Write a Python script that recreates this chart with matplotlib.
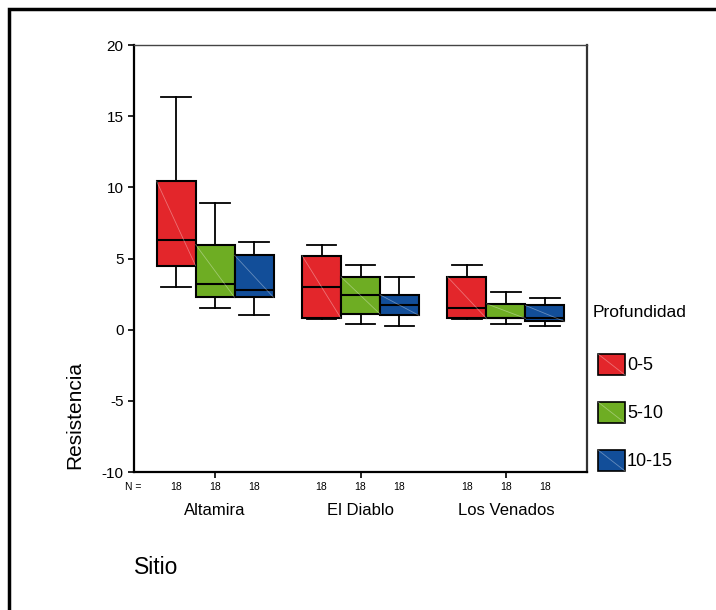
import matplotlib
matplotlib.use("Agg")
import matplotlib.pyplot as plt
from matplotlib.patches import Rectangle
import numpy as np

plt.rcParams['font.family'] = ['Liberation Sans', 'DejaVu Sans']

sites = ["Altamira", "El Diablo", "Los Venados"]
depths = ["0-5", "5-10", "10-15"]
colors = ["#E3262B", "#6EAD23", "#124E99"]
n_counts = [[18, 18, 18], [18, 18, 18], [18, 18, 18]]

# stats per site, per depth: whislo, q1, median, q3, whishi
whislo = [[3.0, 1.5, 1.0], [0.75, 0.37, 0.23], [0.78, 0.37, 0.23]]
q1     = [[4.5, 2.27, 2.27], [0.79, 1.1, 1.0], [0.79, 0.79, 0.58]]
med    = [[6.28, 3.22, 2.8], [2.99, 2.45, 1.7], [1.52, 0.8, 0.79]]
q3     = [[10.44, 5.98, 5.23], [5.21, 3.71, 2.45], [3.71, 1.82, 1.7]]
whishi = [[16.35, 8.92, 6.19], [5.98, 4.51, 3.71], [4.51, 2.62, 2.24]]

W, H = 716, 610
fig = plt.figure(figsize=(W / 100, H / 100), dpi=100)
ax = fig.add_axes([134 / W, 1 - 472 / H, (587 - 134) / W, (472 - 45) / H])

bw = 0.268
offsets = [-bw, 0, bw]
for i in range(len(sites)):
    for j in range(len(depths)):
        pos = i + 1 + offsets[j]
        st = dict(whislo=whislo[i][j], q1=q1[i][j], med=med[i][j],
                  q3=q3[i][j], whishi=whishi[i][j], fliers=[])
        ax.bxp([st], positions=[pos], widths=bw, capwidths=[bw * 0.75],
               patch_artist=True, showfliers=False,
               boxprops=dict(facecolor=colors[j], edgecolor="black", linewidth=1.5),
               medianprops=dict(color="black", linewidth=1.5),
               whiskerprops=dict(color="black", linewidth=1.3),
               capprops=dict(color="black", linewidth=1.3))
        # faint diagonal pattern line
        ax.plot([pos - bw / 2, pos + bw / 2], [q3[i][j], q1[i][j]],
                color="white", alpha=0.35, linewidth=0.6, zorder=5)

ax.set_xlim(0.443, 3.557)
ax.set_ylim(-10, 20)
ax.set_yticks([-10, -5, 0, 5, 10, 15, 20])
ax.set_yticklabels(["-10", "-5", "0", "5", "10", "15", "20"], fontsize=11)
ax.set_xticks([1, 2, 3])
ax.set_xticklabels([])
ax.tick_params(axis="both", direction="out", length=4, width=1.2, color="black")
for s in ["left", "bottom"]:
    ax.spines[s].set_linewidth(1.6)
ax.spines["top"].set_linewidth(1.0)
ax.spines["top"].set_color("#444444")
ax.spines["right"].set_linewidth(1.6)
ax.spines["right"].set_color("#333333")

tr = ax.get_xaxis_transform()
ax.text(0.443 + (133 - 134) / 145.5, -0.034, "N =", transform=tr, ha="center", va="center", fontsize=7.5)
for i in range(len(sites)):
    for j in range(len(depths)):
        ax.text(i + 1 + offsets[j], -0.034, str(n_counts[i][j]), transform=tr,
                ha="center", va="center", fontsize=7.5)
    ax.text(i + 1, -0.089, sites[i], transform=tr, ha="center", va="center", fontsize=12)

fig.text(75 / W, 1 - 415 / H, "Resistencia", rotation=90, ha="center", va="center", fontsize=15)
fig.text(134 / W, 1 - 568 / H, "Sitio", ha="left", va="center", fontsize=16.5)

# legend (drawn in figure pixel space)
fig.text(593 / W, 1 - 313 / H, "Profundidad", ha="left", va="center", fontsize=12.5)
for k, (lab, c) in enumerate(zip(depths, colors)):
    top = 354 + 48 * k
    x0, x1 = 598, 625
    y0, y1 = top, top + 21
    fig.patches.append(Rectangle((x0 / W, 1 - y1 / H), (x1 - x0) / W, (y1 - y0) / H,
                                 transform=fig.transFigure, facecolor=c,
                                 edgecolor="black", linewidth=1.2))
    fig.lines.append(plt.Line2D([x0 / W, x1 / W], [1 - y0 / H, 1 - y1 / H],
                                transform=fig.transFigure, color="white",
                                alpha=0.35, linewidth=0.6))
    fig.text(627 / W, 1 - (top + 11) / H, lab, ha="left", va="center", fontsize=13)

frame = Rectangle((9 / W, -0.1), 1.2, 1 - 9 / H + 0.1, transform=fig.transFigure,
                  fill=False, edgecolor="black", linewidth=2.5, clip_on=False)
fig.patches.append(frame)

fig.savefig("out.png", dpi=100)
